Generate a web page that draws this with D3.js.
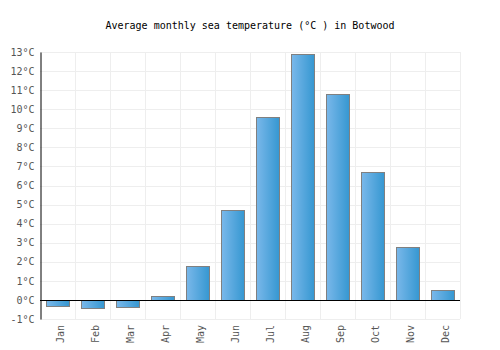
<!DOCTYPE html>
<html>
<head>
<meta charset="utf-8">
<script src="https://cdn.jsdelivr.net/npm/d3@7"></script>
<style>
  body { margin: 0; background: #fff; }
  text { font-family: "DejaVu Sans Mono", "Liberation Mono", monospace; }
</style>
</head>
<body>
<script>
const months = ["Jan", "Feb", "Mar", "Apr", "May", "Jun", "Jul", "Aug", "Sep", "Oct", "Nov", "Dec"];
const temps = [-0.3, -0.4, -0.35, 0.2, 1.8, 4.7, 9.6, 12.9, 10.8, 6.7, 2.8, 0.5];
const yTicks = [-1, 0, 1, 2, 3, 4, 5, 6, 7, 8, 9, 10, 11, 12, 13];
const title = "Average monthly sea temperature (°C ) in Botwood";

const width = 500, height = 350;
const margin = {top: 52, right: 40, bottom: 31, left: 40};

const svg = d3.select("body").append("svg")
    .attr("width", width)
    .attr("height", height);

const defs = svg.append("defs");
const grad = defs.append("linearGradient")
    .attr("id", "barGrad")
    .attr("x1", "0%").attr("x2", "100%")
    .attr("y1", "0%").attr("y2", "0%");
grad.append("stop").attr("offset", "0%").attr("stop-color", "#7ab8ea");
grad.append("stop").attr("offset", "100%").attr("stop-color", "#3597d1");

const x = d3.scaleBand()
    .domain(months)
    .range([margin.left, width - margin.right])
    .paddingInner(0.33)
    .paddingOuter(0.165);

const y = d3.scaleLinear()
    .domain([-1, 13])
    .range([height - margin.bottom, margin.top]);

// title
svg.append("text")
    .attr("x", width / 2)
    .attr("y", 29)
    .attr("text-anchor", "middle")
    .attr("font-size", 10)
    .attr("fill", "#000")
    .text(title);

// horizontal grid
svg.append("g")
    .selectAll("line")
    .data(yTicks)
    .enter()
    .append("line")
    .attr("x1", margin.left)
    .attr("x2", width - margin.right)
    .attr("y1", d => Math.round(y(d)) + 0.5)
    .attr("y2", d => Math.round(y(d)) + 0.5)
    .attr("stroke", "#eeeeee");

// vertical grid at band edges
const edges = months.map(m => x(m) - x.step() * x.paddingInner() / 2 + x.step());
svg.append("g")
    .selectAll("line")
    .data(edges)
    .enter()
    .append("line")
    .attr("x1", d => Math.round(d) + 0.5)
    .attr("x2", d => Math.round(d) + 0.5)
    .attr("y1", margin.top)
    .attr("y2", height - margin.bottom)
    .attr("stroke", "#eeeeee");

// bars
svg.append("g")
    .selectAll("rect")
    .data(temps)
    .enter()
    .append("rect")
    .attr("x", (d, i) => Math.round(x(months[i])) + 0.5)
    .attr("width", Math.round(x.bandwidth()))
    .attr("y", d => Math.round(y(Math.max(0, d))) + 0.5)
    .attr("height", d => Math.round(Math.abs(y(d) - y(0))))
    .attr("fill", "url(#barGrad)")
    .attr("stroke", "#808080")
    .attr("stroke-width", 1);

// zero line
svg.append("line")
    .attr("x1", margin.left)
    .attr("x2", width - margin.right)
    .attr("y1", Math.round(y(0)) + 0.5)
    .attr("y2", Math.round(y(0)) + 0.5)
    .attr("stroke", "#000");

// y axis
const yAxis = svg.append("g")
    .attr("transform", `translate(${margin.left + 0.5},0)`)
    .call(d3.axisLeft(y).tickValues(yTicks).tickSize(0).tickPadding(6).tickFormat(d => d + "°C"));
yAxis.select(".domain").attr("stroke", "#000");
yAxis.selectAll("text")
    .attr("font-size", 10)
    .attr("fill", "#555")
    .attr("font-family", "DejaVu Sans Mono, monospace");

// x axis labels
const xAxis = svg.append("g")
    .attr("transform", `translate(0,${height - margin.bottom})`)
    .call(d3.axisBottom(x).tickSize(0).tickPadding(0));
xAxis.select(".domain").remove();
xAxis.selectAll("text")
    .attr("font-size", 10)
    .attr("fill", "#555")
    .attr("font-family", "DejaVu Sans Mono, monospace")
    .attr("text-anchor", "end")
    .attr("dy", "0.6em")
    .attr("transform", "translate(0,6) rotate(-90)");
</script>
</body>
</html>
